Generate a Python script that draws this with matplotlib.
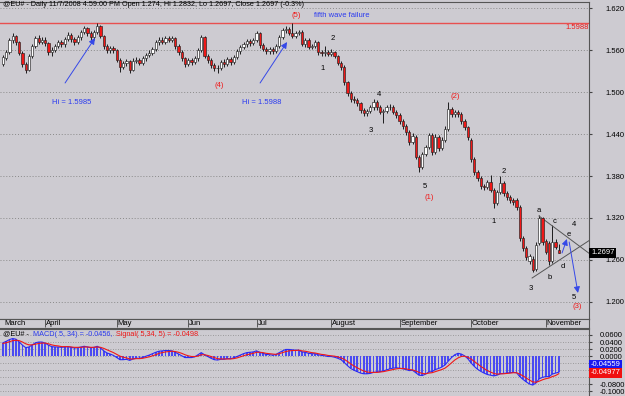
import matplotlib
matplotlib.use('Agg')
import matplotlib.pyplot as plt
import numpy as np
import pandas as pd

plt.rcParams['font.family'] = ['Liberation Sans', 'DejaVu Sans']

# daily EUR/USD bars, 13 Mar 2008 - 7 Nov 2008
dates = pd.bdate_range('2008-03-13', '2008-11-07')

opens = [
    # Mar
    1.540, 1.549, 1.557, 1.574, 1.580, 1.571, 1.556, 1.540, 1.532, 1.552, 1.566, 1.577, 1.572,
    # Apr
    1.575, 1.570, 1.557, 1.560, 1.566, 1.571, 1.568, 1.576, 1.582, 1.576, 1.571, 1.578, 1.586, 1.591,
    1.584, 1.578, 1.586, 1.594, 1.580, 1.566, 1.560, 1.563,
    # May
    1.560, 1.546, 1.536, 1.541, 1.544, 1.532, 1.545, 1.546, 1.542, 1.548, 1.553, 1.556, 1.562, 1.571,
    1.575, 1.572, 1.577, 1.575, 1.577, 1.566, 1.557, 1.548,
    # Jun
    1.540, 1.546, 1.543, 1.548, 1.560, 1.578, 1.552, 1.546, 1.539, 1.534, 1.535, 1.543, 1.540, 1.547,
    1.543, 1.550, 1.558, 1.564, 1.568, 1.573, 1.570,
    # Jul
    1.574, 1.584, 1.567, 1.562, 1.558, 1.562, 1.559, 1.566, 1.579, 1.588, 1.590, 1.585, 1.580, 1.584,
    1.586, 1.569, 1.574, 1.565, 1.566, 1.571, 1.557, 1.556, 1.557,
    # Aug
    1.555, 1.557, 1.551, 1.542, 1.536, 1.514, 1.499, 1.490, 1.488, 1.484, 1.474, 1.470, 1.473, 1.478,
    1.486, 1.478, 1.471, 1.473, 1.478, 1.479, 1.472,
    # Sep
    1.467, 1.458, 1.451, 1.443, 1.429, 1.436, 1.407, 1.393, 1.412, 1.422, 1.439, 1.414, 1.436, 1.420,
    1.432, 1.447, 1.476, 1.469, 1.471, 1.468, 1.459, 1.450,
    # Oct
    1.432, 1.404, 1.386, 1.377, 1.366, 1.364, 1.372, 1.360, 1.341, 1.357, 1.370, 1.356, 1.350, 1.346,
    1.346, 1.336, 1.291, 1.277, 1.258, 1.262, 1.247, 1.284, 1.320,
    # Nov
    1.287, 1.284, 1.258, 1.286, 1.274,
]
highs = [
    1.553, 1.560, 1.577, 1.584, 1.582, 1.573, 1.558, 1.543, 1.555, 1.569, 1.580, 1.581, 1.578,
    1.578, 1.572, 1.564, 1.569, 1.574, 1.575, 1.579, 1.586, 1.584, 1.578, 1.581, 1.589, 1.594, 1.593,
    1.587, 1.589, 1.5985, 1.596, 1.582, 1.569, 1.566, 1.566,
    1.562, 1.548, 1.545, 1.547, 1.546, 1.548, 1.550, 1.549, 1.551, 1.556, 1.560, 1.565, 1.574, 1.578,
    1.578, 1.580, 1.580, 1.580, 1.579, 1.568, 1.560, 1.550,
    1.549, 1.549, 1.551, 1.563, 1.581, 1.580, 1.555, 1.549, 1.542, 1.538, 1.546, 1.547, 1.550, 1.550,
    1.553, 1.561, 1.567, 1.571, 1.576, 1.576, 1.577,
    1.587, 1.586, 1.570, 1.565, 1.565, 1.565, 1.569, 1.582, 1.591, 1.594, 1.593, 1.5988, 1.587, 1.589,
    1.588, 1.577, 1.577, 1.569, 1.574, 1.573, 1.560, 1.566, 1.560,
    1.561, 1.559, 1.553, 1.545, 1.538, 1.516, 1.502, 1.495, 1.492, 1.486, 1.477, 1.476, 1.481, 1.490,
    1.489, 1.481, 1.476, 1.482, 1.483, 1.482, 1.475,
    1.470, 1.461, 1.454, 1.446, 1.441, 1.439, 1.410, 1.415, 1.425, 1.442, 1.441, 1.440, 1.439, 1.436,
    1.451, 1.486, 1.479, 1.474, 1.474, 1.471, 1.462, 1.452,
    1.435, 1.407, 1.389, 1.380, 1.369, 1.375, 1.382, 1.363, 1.360, 1.380, 1.373, 1.359, 1.353, 1.349,
    1.349, 1.338, 1.294, 1.280, 1.268, 1.265, 1.285, 1.324, 1.322,
    1.290, 1.287, 1.310, 1.290, 1.2832,
]
lows = [
    1.537, 1.546, 1.555, 1.570, 1.567, 1.553, 1.536, 1.527, 1.530, 1.549, 1.563, 1.569, 1.569,
    1.566, 1.553, 1.552, 1.557, 1.563, 1.565, 1.565, 1.573, 1.572, 1.567, 1.568, 1.575, 1.583, 1.580,
    1.574, 1.575, 1.583, 1.577, 1.562, 1.556, 1.556, 1.556,
    1.543, 1.529, 1.533, 1.537, 1.527, 1.530, 1.541, 1.538, 1.539, 1.545, 1.550, 1.553, 1.559, 1.567,
    1.569, 1.569, 1.571, 1.572, 1.562, 1.553, 1.544, 1.536,
    1.537, 1.539, 1.540, 1.545, 1.557, 1.548, 1.542, 1.535, 1.530, 1.527, 1.532, 1.536, 1.537, 1.539,
    1.540, 1.547, 1.555, 1.561, 1.565, 1.566, 1.567,
    1.571, 1.563, 1.558, 1.554, 1.555, 1.555, 1.556, 1.563, 1.576, 1.585, 1.582, 1.577, 1.577, 1.581,
    1.566, 1.565, 1.561, 1.561, 1.563, 1.553, 1.551, 1.552, 1.551,
    1.552, 1.548, 1.538, 1.532, 1.510, 1.495, 1.486, 1.485, 1.480, 1.470, 1.466, 1.466, 1.470, 1.475,
    1.475, 1.468, 1.456, 1.470, 1.474, 1.469, 1.463,
    1.454, 1.447, 1.439, 1.425, 1.426, 1.404, 1.386, 1.390, 1.408, 1.419, 1.410, 1.411, 1.416, 1.417,
    1.429, 1.444, 1.465, 1.465, 1.464, 1.455, 1.446, 1.432,
    1.400, 1.382, 1.373, 1.362, 1.360, 1.361, 1.357, 1.334, 1.338, 1.354, 1.352, 1.346, 1.342, 1.339,
    1.332, 1.287, 1.273, 1.260, 1.254, 1.243, 1.244, 1.281, 1.282,
    1.268, 1.253, 1.256, 1.275, 1.2697,
]
closes = [
    1.550, 1.557, 1.574, 1.580, 1.571, 1.556, 1.540, 1.532, 1.552, 1.566, 1.577, 1.572, 1.575,
    1.570, 1.557, 1.560, 1.566, 1.571, 1.568, 1.576, 1.582, 1.576, 1.571, 1.578, 1.586, 1.591, 1.584,
    1.578, 1.586, 1.594, 1.580, 1.566, 1.560, 1.563, 1.560,
    1.546, 1.536, 1.541, 1.544, 1.532, 1.545, 1.546, 1.542, 1.548, 1.553, 1.556, 1.562, 1.571, 1.575,
    1.572, 1.577, 1.575, 1.577, 1.566, 1.557, 1.548, 1.540,
    1.546, 1.543, 1.548, 1.560, 1.578, 1.552, 1.546, 1.539, 1.534, 1.535, 1.543, 1.540, 1.547, 1.543,
    1.550, 1.558, 1.564, 1.568, 1.573, 1.570, 1.574,
    1.584, 1.567, 1.562, 1.558, 1.562, 1.559, 1.566, 1.579, 1.588, 1.590, 1.585, 1.580, 1.584, 1.586,
    1.569, 1.574, 1.565, 1.566, 1.571, 1.557, 1.556, 1.557, 1.555,
    1.557, 1.551, 1.542, 1.536, 1.514, 1.499, 1.490, 1.488, 1.484, 1.474, 1.470, 1.473, 1.478, 1.486,
    1.478, 1.471, 1.473, 1.478, 1.479, 1.472, 1.467,
    1.458, 1.451, 1.443, 1.429, 1.437, 1.407, 1.393, 1.412, 1.422, 1.439, 1.414, 1.436, 1.420, 1.432,
    1.447, 1.476, 1.469, 1.471, 1.468, 1.459, 1.450, 1.436,
    1.404, 1.386, 1.377, 1.366, 1.364, 1.372, 1.360, 1.341, 1.357, 1.370, 1.356, 1.350, 1.346, 1.343,
    1.336, 1.291, 1.277, 1.264, 1.265, 1.246, 1.282, 1.320, 1.286,
    1.272, 1.258, 1.286, 1.278, 1.2697,
]

# MACD(5,34) and Signal(5,34,5)
macd = [
    0.038, 0.042, 0.047, 0.050, 0.048, 0.040, 0.031, 0.024, 0.026, 0.032, 0.038, 0.040, 0.040,
    0.037, 0.031, 0.027, 0.026, 0.026, 0.025, 0.026, 0.027, 0.025, 0.023, 0.024, 0.026, 0.028, 0.026,
    0.024, 0.025, 0.028, 0.023, 0.015, 0.009, 0.006, 0.002,
    -0.004, -0.010, -0.010, -0.009, -0.012, -0.008, -0.006, -0.006, -0.004, 0.000, 0.003, 0.007, 0.011, 0.014,
    0.015, 0.016, 0.016, 0.015, 0.011, 0.006, 0.001, -0.004,
    -0.004, -0.004, -0.002, 0.004, 0.010, 0.004, -0.001, -0.006, -0.010, -0.011, -0.009, -0.009, -0.007, -0.007,
    -0.005, -0.001, 0.003, 0.007, 0.010, 0.011, 0.012,
    0.015, 0.011, 0.008, 0.005, 0.004, 0.003, 0.005, 0.010, 0.015, 0.019, 0.019, 0.018, 0.017, 0.017,
    0.012, 0.011, 0.008, 0.007, 0.007, 0.004, 0.002, 0.001, -0.001,
    -0.001, -0.003, -0.006, -0.010, -0.018, -0.027, -0.035, -0.040, -0.044, -0.048, -0.050, -0.050, -0.049, -0.046,
    -0.045, -0.044, -0.042, -0.039, -0.036, -0.034, -0.033,
    -0.034, -0.036, -0.038, -0.041, -0.040, -0.047, -0.054, -0.055, -0.051, -0.045, -0.044, -0.038, -0.035, -0.031,
    -0.025, -0.014, -0.004, 0.004, 0.008, 0.006, 0.001, -0.007,
    -0.019, -0.029, -0.037, -0.043, -0.048, -0.052, -0.054, -0.056, -0.054, -0.050, -0.049, -0.048, -0.047, -0.046,
    -0.047, -0.058, -0.066, -0.073, -0.079, -0.082, -0.076, -0.064, -0.060,
    -0.058, -0.058, -0.051, -0.048, -0.0456,
]
signal = [
    0.036, 0.038, 0.041, 0.044, 0.045, 0.044, 0.040, 0.035, 0.032, 0.032, 0.034, 0.036, 0.037,
    0.037, 0.035, 0.032, 0.030, 0.029, 0.027, 0.027, 0.027, 0.026, 0.025, 0.025, 0.025, 0.026, 0.026,
    0.025, 0.025, 0.026, 0.025, 0.022, 0.018, 0.014, 0.010,
    0.005, 0.000, -0.003, -0.005, -0.008, -0.008, -0.007, -0.007, -0.006, -0.004, -0.002, 0.001, 0.004, 0.008,
    0.010, 0.012, 0.013, 0.014, 0.013, 0.011, 0.008, 0.004,
    0.001, -0.001, -0.001, 0.000, 0.004, 0.004, 0.002, -0.001, -0.004, -0.007, -0.008, -0.008, -0.008, -0.008,
    -0.007, -0.005, -0.002, 0.001, 0.004, 0.006, 0.008,
    0.011, 0.011, 0.010, 0.008, 0.007, 0.006, 0.005, 0.007, 0.010, 0.013, 0.015, 0.016, 0.016, 0.017,
    0.015, 0.014, 0.012, 0.010, 0.009, 0.007, 0.005, 0.004, 0.002,
    0.001, 0.000, -0.002, -0.005, -0.009, -0.015, -0.022, -0.028, -0.033, -0.038, -0.042, -0.045, -0.046, -0.046,
    -0.046, -0.045, -0.044, -0.042, -0.040, -0.038, -0.036,
    -0.035, -0.035, -0.036, -0.038, -0.039, -0.042, -0.046, -0.049, -0.050, -0.048, -0.047, -0.044, -0.041, -0.038,
    -0.034, -0.027, -0.019, -0.011, -0.005, -0.001, 0.000, -0.003,
    -0.008, -0.015, -0.022, -0.029, -0.035, -0.041, -0.045, -0.049, -0.051, -0.050, -0.050, -0.049, -0.048, -0.047,
    -0.047, -0.051, -0.056, -0.062, -0.068, -0.073, -0.074, -0.071, -0.067,
    -0.064, -0.062, -0.058, -0.055, -0.0498,
]

month_names = ['March', 'April', 'May', 'Jun', 'Jul', 'August', 'September', 'October', 'November']
price_ticks = [1.620, 1.560, 1.500, 1.440, 1.380, 1.320, 1.260, 1.200]
macd_ticks = [0.06, 0.04, 0.02, 0.0, -0.08, -0.10]

# elliott wave labels: (bar, price, text, colour)
wave_labels = [
    (90.2, 1.6086, '(5)', 'red'), (66.5, 1.5086, '(4)', 'red'),
    (139.1, 1.4929, '(2)', 'red'), (131.1, 1.3486, '(1)', 'red'), (176.6, 1.1929, '(3)', 'red'),
    (98.2, 1.5329, '1', 'k'), (101.5, 1.5771, '2', 'k'), (113.2, 1.4443, '3', 'k'),
    (115.7, 1.4971, '4', 'k'), (129.8, 1.3643, '5', 'k'),
    (150.8, 1.3143, '1', 'k'), (154.2, 1.3871, '2', 'k'), (162.5, 1.2186, '3', 'k'),
    (175.7, 1.3114, '4', 'k'), (175.7, 1.2071, '5', 'k'),
    (164.9, 1.3314, 'a', 'k'), (168.3, 1.2357, 'b', 'k'), (169.8, 1.3157, 'c', 'k'),
    (172.3, 1.2514, 'd', 'k'), (174.2, 1.2971, 'e', 'k'),
]

BG = '#CDCBD1'
RED = '#F01818'
BLUE = '#2B3BF0'
W, H = 625, 396
FS = 5.5


def px(x, y):
    return x / W, 1 - y / H


fig = plt.figure(figsize=(W / 100, H / 100), dpi=100, facecolor=BG)
ax = fig.add_axes([0, 1 - 319 / H, 589 / W, 317 / H], facecolor=BG)
ax_d = fig.add_axes([0, 1 - 328 / H, 589 / W, 9 / H], facecolor=BG)
ax_m = fig.add_axes([0, 0, 589 / W, 67 / H], facecolor=BG)

x = np.arange(len(closes))
o, h, l, c = (np.array(v) for v in (opens, highs, lows, closes))
up = c >= o

# price panel
for p in price_ticks:
    ax.axhline(p, color='#8a8a8a', lw=0.7, ls=(0, (1, 2)), zorder=0)
ax.vlines(x, l, h, color='black', lw=0.6, zorder=2)
ax.bar(x, np.maximum(np.abs(c - o), 0.0009), bottom=np.minimum(o, c), width=0.66,
       color=np.where(up, 'white', RED), edgecolor='#222222', lw=0.45, zorder=3)
ax.axhline(1.5988, color='#E85050', lw=1.0, zorder=1)
ax.text(180.1, 1.5975, '1.5988', color=RED, fontsize=FS, ha='right', va='top')

ax.set_xlim(-0.92, 180.3)
ax.set_ylim(1.1757, 1.6286)
ax.set_xticks([])
ax.yaxis.tick_right()
ax.set_yticks(price_ticks)
ax.set_yticklabels([f'{p:.3f}' for p in price_ticks])
ax.tick_params(axis='y', labelsize=FS, length=2, pad=10, color='#444444')

for bi, pr, t, col in wave_labels:
    ax.text(bi, pr, t, color=RED if col == 'red' else 'black', fontsize=FS,
            ha='center', va='center')
ax.text(95.7, 1.6086, 'fifth wave failure', color=BLUE, fontsize=FS, ha='left', va='center')
ax.text(21.2, 1.4857, 'Hi = 1.5985', color=BLUE, fontsize=FS, ha='center', va='center')
ax.text(79.7, 1.4857, 'Hi = 1.5988', color=BLUE, fontsize=FS, ha='center', va='center')

arrow = dict(arrowstyle='-|>', color='#3548E8', lw=0.7, mutation_scale=9, shrinkA=0, shrinkB=0)
ax.annotate('', xy=(28.3, 1.5771), xytext=(19.1, 1.5129), arrowprops=arrow)
ax.annotate('', xy=(87.4, 1.5714), xytext=(79.1, 1.5129), arrowprops=arrow)
ax.annotate('', xy=(173.5, 1.290), xytext=(172.0, 1.270), arrowprops=arrow)
ax.annotate('', xy=(176.9, 1.2129), xytext=(174.2, 1.2857), arrowprops=arrow)

# contracting triangle
ax.plot([164.9, 180.6], [1.3229, 1.2686], color='#555555', lw=0.7)
ax.plot([162.8, 180.6], [1.2343, 1.2886], color='#555555', lw=0.7)

ax.spines['left'].set_visible(False)
for side in ['top', 'right', 'bottom']:
    ax.spines[side].set_color('#555555')

# date strip
ax_d.set_xlim(ax.get_xlim())
ax_d.set_ylim(0, 1)
ax_d.set_xticks([])
ax_d.set_yticks([])
ax_d.spines['left'].set_visible(False)
for side in ['top', 'right', 'bottom']:
    ax_d.spines[side].set_color('#555555')
firsts = [0] + [i for i in range(1, len(dates)) if dates[i].month != dates[i - 1].month]
for k, i in enumerate(firsts):
    if k > 0:
        ax_d.vlines(i, 0.15, 1.0, color='#444444', lw=0.6)
    ax_d.text(i + 0.3, 0.45, month_names[k], fontsize=FS, ha='left', va='center')

# MACD panel
for v in np.arange(-0.10, 0.07, 0.02):
    ax_m.axhline(v, color='#8a8a8a', lw=0.6, ls=(0, (1, 2)), zorder=0)
ax_m.bar(x, macd, width=0.55, color='#4A4AF2', zorder=2)
ax_m.plot(x, macd, color='#2A2AF5', lw=0.8, zorder=3)
ax_m.plot(x, signal, color=RED, lw=0.8, zorder=4)
ax_m.set_xlim(ax.get_xlim())
ax_m.set_ylim(-0.113, 0.077)
ax_m.set_xticks([])
ax_m.yaxis.tick_right()
ax_m.set_yticks(macd_ticks)
ax_m.set_yticklabels([f'{v:.4f}' for v in macd_ticks])
ax_m.tick_params(axis='y', labelsize=FS, length=2, pad=6, color='#444444')
ax_m.spines['left'].set_visible(False)
ax_m.spines['bottom'].set_visible(False)
for side in ['top', 'right']:
    ax_m.spines[side].set_color('#555555')

# header texts
fig.text(*px(3, 5), '@EU# - Daily 11/7/2008 4:59:00 PM Open 1.274, Hi 1.2832, Lo 1.2697, '
         'Close 1.2697 (-0.3%)', fontsize=5.2, va='center', ha='left')
t1 = fig.text(*px(3, 334), '@EU# - ', fontsize=5.2, va='center', ha='left')
t2 = fig.text(*px(3, 334), 'MACD( 5, 34) = -0.0456, ', color=BLUE, fontsize=5.2,
              va='center', ha='left')
t3 = fig.text(*px(3, 334), 'Signal( 5,34, 5) = -0.0498', color=RED, fontsize=5.2,
              va='center', ha='left')
# place the coloured pieces one after another
fig.canvas.draw()
r = fig.canvas.get_renderer()
x0 = t1.get_window_extent(r).x1 + 2
t2.set_x(x0 / W)
x1 = t2.get_window_extent(r).x1 + 2
t3.set_x(x1 / W)

# last value boxes
fig.text(*px(591, 253), '1.2697', color='white', fontsize=FS, va='center', ha='left',
         bbox=dict(boxstyle='square,pad=0.2', fc='black', ec='none'))
fig.text(*px(591, 365), '-0.04559', color='white', fontsize=FS, va='center', ha='left',
         bbox=dict(boxstyle='square,pad=0.2', fc='#1818F0', ec='none'))
fig.text(*px(591, 373), '-0.04977', color='white', fontsize=FS, va='center', ha='left',
         bbox=dict(boxstyle='square,pad=0.2', fc='#F01010', ec='none'))

fig.savefig('out.png', dpi=100, facecolor=BG)
